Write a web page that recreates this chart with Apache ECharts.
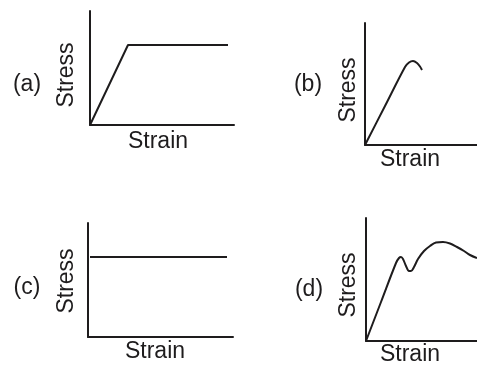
<!DOCTYPE html>
<html>
<head>
<meta charset="utf-8">
<script src="https://cdn.jsdelivr.net/npm/echarts@6/dist/echarts.min.js"></script>
<style>
  html, body { margin: 0; padding: 0; background: #fff; }
  #chart { width: 477px; height: 365px; }
</style>
</head>
<body>
<div id="chart"></div>
<script>
// curves, in arbitrary strain / stress units
const curveA = [[0, 0], [38, 80], [138, 80]];
const curveB = [[0, 0], [20, 39], [40, 78], [44, 82.5], [48, 84], [52, 82], [55, 78.5], [57, 75]];
const curveC = [[2, 80], [139, 80]];
const curveD = [[0, 0], [15, 39], [30, 78], [33, 83], [35, 84], [37, 82], [40, 75], [43, 70], [45, 70],
  [48, 74], [52, 82], [58, 90], [64, 95], [70, 98.5], [77, 99], [84, 97.5], [91, 94], [98, 90], [104, 86], [111, 83]];
const panelTags = ['(a)', '(b)', '(c)', '(d)'];

const ink = '#1e1c1d';
const font = 'Liberation Sans, Arial, sans-serif';

// grids in pixels: left, top, width, height
const panels = [
  { box: [90, 11, 144, 114], data: curveA, smooth: false, tag: [27, 85], stress: [67, 75], strain: [158, 142] },
  { box: [365, 23, 112, 122], data: curveB, smooth: 0.3, tag: [308, 85], stress: [349, 90], strain: [410, 160] },
  { box: [88, 223, 145, 114], data: curveC, smooth: false, tag: [27, 288], stress: [67, 281], strain: [155, 352] },
  { box: [366, 218, 111, 123], data: curveD, smooth: 0.35, tag: [309, 290], stress: [349, 285], strain: [410, 355] }
];

const chart = echarts.init(document.getElementById('chart'));

const axisBase = {
  type: 'value',
  axisLine: { show: true, lineStyle: { color: ink, width: 2 } },
  axisTick: { show: false },
  axisLabel: { show: false },
  splitLine: { show: false }
};

const graphic = [];
panels.forEach((p, i) => {
  graphic.push({
    type: 'text', x: p.tag[0], y: p.tag[1],
    style: { text: panelTags[i], font: '23px ' + font, fill: ink, textAlign: 'center', textVerticalAlign: 'middle' }
  });
  graphic.push({
    type: 'text', x: p.stress[0], y: p.stress[1], rotation: Math.PI / 2,
    style: { text: 'Stress', font: '23px ' + font, fill: ink, textAlign: 'center', textVerticalAlign: 'middle' }
  });
  graphic.push({
    type: 'text', x: p.strain[0], y: p.strain[1],
    style: { text: 'Strain', font: '23px ' + font, fill: ink, textAlign: 'center', textVerticalAlign: 'middle' }
  });
});

const option = {
  animation: false,
  backgroundColor: '#fff',
  grid: panels.map(p => ({ left: p.box[0], top: p.box[1], width: p.box[2], height: p.box[3] })),
  xAxis: panels.map((p, i) => Object.assign({}, axisBase, { gridIndex: i, min: 0, max: p.box[2] })),
  yAxis: panels.map((p, i) => Object.assign({}, axisBase, { gridIndex: i, min: 0, max: p.box[3] })),
  series: panels.map((p, i) => ({
    type: 'line',
    xAxisIndex: i,
    yAxisIndex: i,
    data: p.data,
    smooth: p.smooth,
    symbol: 'none',
    lineStyle: { color: ink, width: 2 }
  })),
  graphic: graphic
};

chart.setOption(option);
</script>
</body>
</html>
